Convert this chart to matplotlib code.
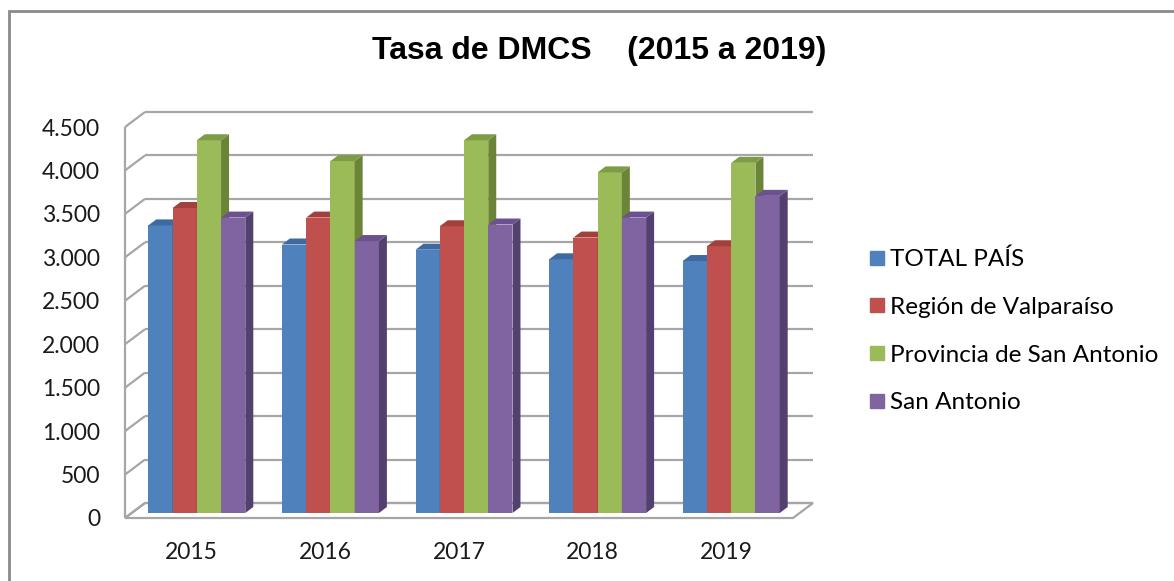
import matplotlib.pyplot as plt
from matplotlib.patches import Polygon, Rectangle
from matplotlib.lines import Line2D

# data
years = ['2015', '2016', '2017', '2018', '2019']
series = ['TOTAL PAÍS', 'Región de Valparaíso', 'Provincia de San Antonio', 'San Antonio']
total_pais = [3310, 3090, 3030, 2920, 2900]
region_valpo = [3510, 3400, 3300, 3170, 3070]
provincia_sa = [4290, 4050, 4290, 3920, 4030]
san_antonio = [3400, 3130, 3320, 3400, 3650]
values = [total_pais, region_valpo, provincia_sa, san_antonio]
yticks = [0, 500, 1000, 1500, 2000, 2500, 3000, 3500, 4000, 4500]

front = ['#4F81BD', '#C0504D', '#9BBB59', '#8064A2']
side = ['#385D8A', '#8C3836', '#6B8438', '#54406F']
top = ['#3F6AA0', '#A3403D', '#7E9C46', '#6A5190']
grid_c = '#a6a6a6'

W, H = 1174, 581
fig = plt.figure(figsize=(W / 100, H / 100), dpi=100)
fig.patch.set_facecolor('white')

# chart frame (runs off the right/bottom edge like the screenshot)
fig.add_artist(Rectangle((9 / W, -0.1), 1.2, (H - 11) / H + 0.1, transform=fig.transFigure,
                         fill=False, edgecolor='#8a8a8a', linewidth=2))

# front plane of the plot area, in pixels
x0, x1, yb, yt = 125, 793, 518, 127
ax = fig.add_axes([x0 / W, (H - yb) / H, (x1 - x0) / W, (yb - yt) / H])
ax.set_xlim(0, 5)
ax.set_ylim(0, 4500)
for s in ax.spines.values():
    s.set_visible(False)
ax.patch.set_alpha(0)

px_x = 5 / (x1 - x0)       # data units per pixel
px_y = 4500 / (yb - yt)

# depth of the box and of the bars, in pixels
ddx, ddy = 20 * px_x, 15 * px_y
bdx, bdy = 5 * px_x, 5 * px_y
sdx, sdy = 8 * px_x, 6 * px_y

kw = dict(clip_on=False, color=grid_c, linewidth=1.6, solid_capstyle='butt')
# floor
ax.add_patch(Polygon([(0, 0), (5, 0), (5 + ddx, ddy), (ddx, ddy)], closed=True,
                     facecolor='white', edgecolor=grid_c, linewidth=1.6, clip_on=False))
# back wall gridlines + left wall diagonals
for v in yticks:
    ax.plot([ddx, 5 + ddx], [v + ddy, v + ddy], **kw)
    ax.plot([0, ddx], [v, v + ddy], **kw)
ax.plot([0, 0], [0, 4500], **kw)

# bars
bw = 0.1815
for i in range(len(years)):
    for j, vals in enumerate(values):
        xc = i + 0.5 + (j - 1.5) * bw + bdx
        v = vals[i]
        ax.bar(xc, v, width=bw, bottom=bdy, color=front[j], linewidth=0, clip_on=False,
               zorder=3)
        l, r = xc - bw / 2, xc + bw / 2
        ax.add_patch(Polygon([(r, bdy), (r + sdx, bdy + sdy), (r + sdx, bdy + v + sdy), (r, bdy + v)],
                             closed=True, facecolor=side[j], linewidth=0, zorder=3, clip_on=False))
        ax.add_patch(Polygon([(l, bdy + v), (r, bdy + v), (r + sdx, bdy + v + sdy), (l + sdx, bdy + v + sdy)],
                             closed=True, facecolor=top[j], linewidth=0, zorder=3, clip_on=False))

font = 'Lato'
ax.set_yticks(yticks)
ax.set_yticklabels([f'{v:,}'.replace(',', '.') for v in yticks], fontsize=16.5, family=font, color='#1a1a1a')
ax.set_xticks([i + 0.5 for i in range(len(years))])
ax.set_xticklabels(years, fontsize=16.5, family=font, color='#1a1a1a')
ax.tick_params(axis='y', length=0, pad=18)
ax.tick_params(axis='x', length=0, pad=17)

fig.text(599 / W, 1 - 51 / H, 'Tasa de DMCS    (2015 a 2019)', ha='center', va='center',
         fontsize=23, fontweight='bold', family='Liberation Sans')

handles = [Line2D([], [], marker='s', linestyle='none', markersize=9.5, color=c) for c in front]
fig.legend(handles, series, loc='center left', bbox_to_anchor=(866 / W, 1 - 331 / H),
           frameon=False, prop={'family': font, 'size': 17.5}, handletextpad=0.12,
           labelspacing=1.1, handlelength=0.88, borderpad=0, borderaxespad=0)

fig.savefig('out.png', dpi=100)
